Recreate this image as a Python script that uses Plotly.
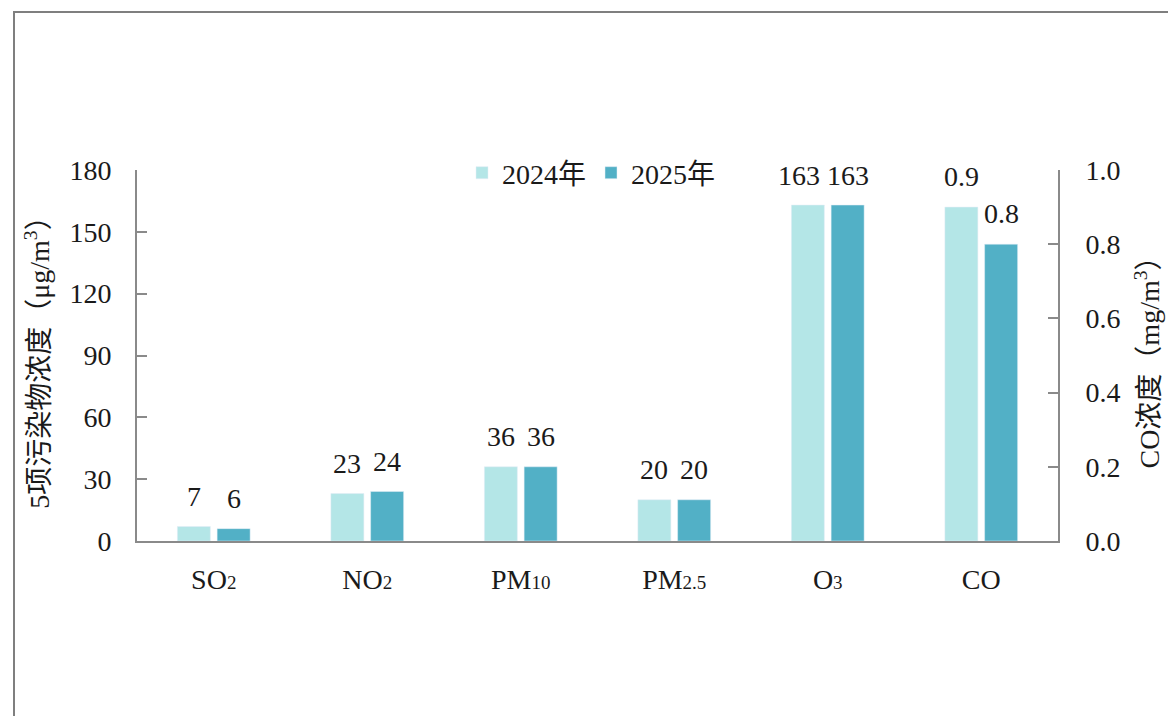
import plotly.graph_objects as go

# ---- data ----
categories = ["SO2", "NO2", "PM10", "PM2.5", "O3", "CO"]
sub = '<span style="font-size:19px">{}</span>'
tick_labels = ["SO" + sub.format("2"), "NO" + sub.format("2"), "PM" + sub.format("10"),
               "PM" + sub.format("2.5"), "O" + sub.format("3"), "CO"]
main_categories = ["SO2", "NO2", "PM10", "PM2.5", "O3"]
values_2024 = [7, 23, 36, 20, 163]
values_2025 = [6, 24, 36, 20, 163]
co_category = ["CO"]
co_2024 = [0.9]
co_2025 = [0.8]
series_names = ["2024年", "2025年"]
left_title = "5项污染物浓度（μg/m<sup>3</sup>）"
right_title = "CO浓度（mg/m<sup>3</sup>）"

# ---- style ----
c_light = "#B4E6E7"
c_dark = "#52B0C6"
txt = "#1a1a1a"
axis_col = "#8a8a8a"
serif = "Liberation Serif, Noto Sans CJK SC, serif"
FS = 28
TFS = 28
W, H = 1176, 716
OFF = 8  # page offset of the figure in the window
ML, MT = 137 - OFF, 170 - OFF
MR = W - (1058 - OFF)
MB = H - (541 - OFF)
bar_w = 0.215
off_a = -0.237
off_b = 0.022
pw = W - ML - MR
ph = H - MT - MB
cat_px = pw / len(categories)
label_nudge_2024 = {"O3": -9}

fig = go.Figure()
fig.add_bar(x=main_categories, y=values_2024, name=series_names[0], marker_color=c_light,
            width=bar_w, offset=off_a, legendgroup="a", yaxis="y")
fig.add_bar(x=main_categories, y=values_2025, name=series_names[1], marker_color=c_dark,
            width=bar_w, offset=off_b, legendgroup="b", yaxis="y")
fig.add_bar(x=co_category, y=co_2024, name=series_names[0], marker_color=c_light,
            width=bar_w, offset=off_a, legendgroup="a", showlegend=False, yaxis="y2")
fig.add_bar(x=co_category, y=co_2025, name=series_names[1], marker_color=c_dark,
            width=bar_w, offset=off_b, legendgroup="b", showlegend=False, yaxis="y2")

# value labels
shift_a = (off_a + bar_w / 2) * cat_px
shift_b = (off_b + bar_w / 2) * cat_px
lab_font = dict(size=FS, color=txt, family=serif)
ann = []
for cat, v in zip(main_categories, values_2024):
    ann.append(dict(x=cat, y=v, xref="x", yref="y", text=str(v),
                    xshift=shift_a + label_nudge_2024.get(cat, 0), yshift=30,
                    showarrow=False, yanchor="middle", font=lab_font))
for cat, v in zip(main_categories, values_2025):
    ann.append(dict(x=cat, y=v, xref="x", yref="y", text=str(v), xshift=shift_b, yshift=30,
                    showarrow=False, yanchor="middle", font=lab_font))
for cat, v in zip(co_category, co_2024):
    ann.append(dict(x=cat, y=v, xref="x", yref="y2", text=f"{v:.1f}", xshift=shift_a, yshift=31,
                    showarrow=False, yanchor="middle", font=lab_font))
for cat, v in zip(co_category, co_2025):
    ann.append(dict(x=cat, y=v, xref="x", yref="y2", text=f"{v:.1f}", xshift=shift_b, yshift=31,
                    showarrow=False, yanchor="middle", font=lab_font))

frame = dict(type="rect", xref="paper", yref="paper",
             x0=(14 - OFF - ML) / pw, x1=(W + 30 - ML) / pw,
             y0=-(H + 30 - (H - MB)) / ph, y1=((H - MB) - (12 - OFF)) / ph,
             line=dict(color="#7f7f7f", width=2), fillcolor="rgba(0,0,0,0)", layer="below")

fig.update_layout(
    width=W, height=H,
    margin=dict(l=ML, r=MR, t=MT, b=MB),
    paper_bgcolor="white", plot_bgcolor="white",
    barmode="overlay",
    font=dict(family=serif, size=FS, color=txt),
    showlegend=True,
    legend=dict(orientation="h", x=(462 - OFF - ML) / pw, xanchor="left",
                y=(541 - 173) / ph, yanchor="middle",
                font=dict(size=FS, family=serif, color=txt), bgcolor="rgba(0,0,0,0)",
                itemwidth=30, traceorder="normal"),
    xaxis=dict(type="category", categoryorder="array", categoryarray=categories,
               tickmode="array", tickvals=categories, ticktext=tick_labels,
               range=[-0.5, len(categories) - 0.5],
               showline=True, linecolor=axis_col, linewidth=2, ticks="", showgrid=False,
               zeroline=False, ticklabelstandoff=12,
               tickfont=dict(size=FS, family=serif, color=txt)),
    yaxis=dict(range=[0, 180], dtick=30, tick0=0, showline=True, linecolor=axis_col, linewidth=2,
               ticks="inside", ticklen=10, tickcolor=axis_col, tickwidth=2, showgrid=False,
               zeroline=False, ticklabelstandoff=18,
               tickfont=dict(size=FS, family=serif, color=txt),
               title=dict(text=left_title, standoff=12,
                          font=dict(size=TFS, family=serif, color=txt))),
    yaxis2=dict(range=[0, 1.0], dtick=0.2, tick0=0, tickformat=".1f", overlaying="y", side="right",
                showline=True, linecolor=axis_col, linewidth=2,
                ticks="inside", ticklen=10, tickcolor=axis_col, tickwidth=2, showgrid=False,
                zeroline=False, ticklabelstandoff=20,
                tickfont=dict(size=FS, family=serif, color=txt),
                title=dict(text=right_title, standoff=20,
                           font=dict(size=TFS, family=serif, color=txt))),
    annotations=ann,
    shapes=[frame],
)

fig.write_html("out.html")
